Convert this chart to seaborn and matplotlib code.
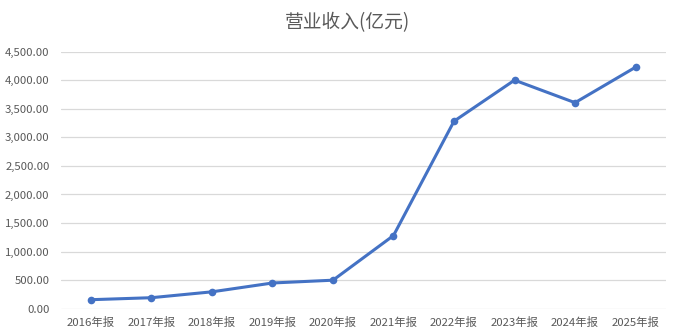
import matplotlib
matplotlib.use("Agg")
import matplotlib.pyplot as plt
import seaborn as sns
import pandas as pd
from matplotlib.ticker import FuncFormatter

years = ["2016年报", "2017年报", "2018年报", "2019年报", "2020年报",
         "2021年报", "2022年报", "2023年报", "2024年报", "2025年报"]
revenue = [155, 190, 293, 448, 497, 1280, 3285, 4005, 3610, 4232]
title = "营业收入(亿元)"

sns.set_theme(style="white")
plt.rcParams['font.family'] = ['Noto Sans CJK SC', 'DejaVu Sans']

df = pd.DataFrame({"year": years, "revenue": revenue})
df["pos"] = range(len(years))

fig = plt.figure(figsize=(6.78, 3.35), dpi=100)
ax = fig.add_axes([0.0895, 0.079, 0.8925, 0.766])

sns.lineplot(data=df, x="pos", y="revenue", ax=ax, color="#4472C4",
             linewidth=2.2, marker="o", markersize=5.5, markeredgewidth=0)

ax.set_xlim(-0.5, len(years) - 0.5)
ax.set_ylim(0, 4500)
ax.set_yticks(range(0, 4501, 500))
ax.yaxis.set_major_formatter(FuncFormatter(lambda v, p: f"{v:,.2f}"))
ax.set_xticks(df["pos"])
ax.set_xticklabels(years)
ax.grid(axis="y", color="#D9D9D9", linewidth=0.9)
ax.grid(axis="x", visible=False)
for s in ax.spines.values():
    s.set_visible(False)
ax.tick_params(axis="both", length=0, labelsize=8.2, colors="#595959")
ax.tick_params(axis="y", pad=8)
ax.tick_params(axis="x", pad=6)
ax.set_xlabel("")
ax.set_ylabel("")
fig.text(0.513, 0.933, title, ha="center", va="center", fontsize=13.5, color="#595959")

fig.savefig("out.png", dpi=100)
